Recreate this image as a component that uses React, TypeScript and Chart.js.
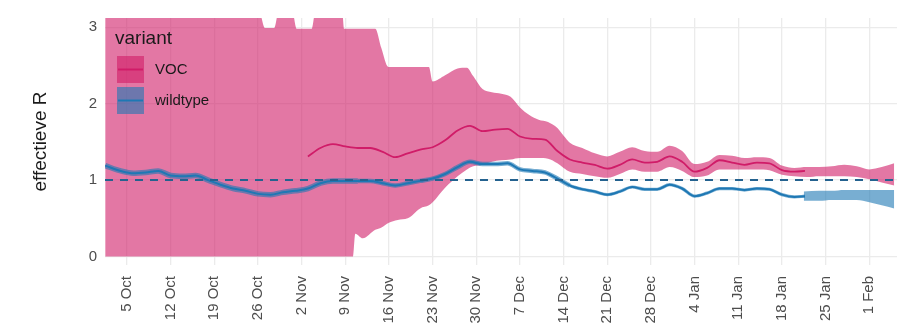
import React, { useEffect, useRef } from 'react';
import { Chart, registerables } from 'chart.js';

Chart.register(...registerables);

const FONT = "'Liberation Sans', Arial, Helvetica, sans-serif";

// x values are days since 1 Oct
const tickDays = [4, 11, 18, 25, 32, 39, 46, 53, 60, 67, 74, 81, 88, 95, 102, 109, 116, 123];
const tickLabels = ['5 Oct', '12 Oct', '19 Oct', '26 Oct', '2 Nov', '9 Nov', '16 Nov', '23 Nov', '30 Nov', '7 Dec', '14 Dec', '21 Dec', '28 Dec', '4 Jan', '11 Jan', '18 Jan', '25 Jan', '1 Feb'];
const yTicks = [0, 1, 2, 3];

const seriesNames = ['VOC', 'wildtype'];
const legendTitle = 'variant';
const yTitle = 'effectieve R';

// wildtype R
const wildDays = [0.5, 3, 5, 7, 9, 11, 13, 15, 17, 19, 21, 23, 25, 27, 29, 31, 33, 35, 37, 39, 41, 43, 45, 47, 49, 51, 53, 55, 57, 59, 61, 63, 65, 67, 69, 71, 73, 75, 77, 79, 81, 83, 85, 87, 89, 91, 93, 95, 97, 99, 101, 103, 105, 107, 109, 111, 112.7];
const wildR = [1.19, 1.12, 1.09, 1.10, 1.12, 1.06, 1.05, 1.06, 1.00, 0.94, 0.89, 0.86, 0.82, 0.81, 0.84, 0.86, 0.89, 0.96, 0.99, 0.99, 0.99, 0.99, 0.96, 0.93, 0.96, 0.99, 1.02, 1.08, 1.17, 1.24, 1.21, 1.21, 1.22, 1.14, 1.12, 1.10, 1.02, 0.93, 0.88, 0.85, 0.81, 0.85, 0.91, 0.88, 0.88, 0.94, 0.89, 0.79, 0.83, 0.89, 0.89, 0.87, 0.89, 0.88, 0.81, 0.78, 0.79];

// wildtype projection band
const wildBandDays = [112.5, 115, 117, 119, 121, 123, 125, 127];
const wildBandLow = [0.73, 0.73, 0.74, 0.74, 0.74, 0.71, 0.67, 0.63];
const wildBandHigh = [0.85, 0.86, 0.86, 0.87, 0.87, 0.87, 0.87, 0.87];

// VOC R
const vocDays = [33, 35, 37, 39, 41, 43, 45, 47, 49, 51, 53, 55, 57, 59, 61, 63, 65, 67, 69, 71, 73, 75, 77, 79, 81, 83, 85, 87, 89, 91, 93, 95, 97, 99, 101, 103, 105, 107, 109, 111, 112.7];
const vocR = [1.31, 1.42, 1.47, 1.44, 1.42, 1.42, 1.37, 1.30, 1.35, 1.40, 1.43, 1.52, 1.65, 1.71, 1.64, 1.66, 1.67, 1.57, 1.54, 1.53, 1.38, 1.27, 1.23, 1.20, 1.15, 1.20, 1.27, 1.23, 1.24, 1.31, 1.24, 1.11, 1.16, 1.26, 1.23, 1.20, 1.23, 1.22, 1.13, 1.11, 1.12];

// VOC uncertainty band
const vocBandDays = [0.5, 25.2, 26.1, 27.6, 28.3, 30.5, 31.2, 33.6, 34.2, 38.5, 38.8, 40.2, 40.6, 41.8, 43.8, 44.8, 45.9, 47.4, 49, 51, 52.4, 53, 55, 57, 58.5, 59.5, 61, 62.5, 64, 65.5, 67, 68.5, 70, 71.5, 73, 74, 75, 77, 79, 81, 83, 85, 87, 89, 91, 93, 95, 97, 99, 101, 103, 105, 107, 109, 111, 113, 115, 117, 119, 121, 123, 125, 127];
const vocBandHigh = [3.2, 3.2, 2.99, 2.99, 3.2, 3.2, 2.98, 2.98, 3.2, 3.2, 2.98, 2.98, 2.98, 2.98, 2.98, 2.72, 2.48, 2.48, 2.48, 2.48, 2.48, 2.29, 2.37, 2.46, 2.47, 2.36, 2.19, 2.15, 2.13, 2.09, 1.95, 1.85, 1.79, 1.76, 1.68, 1.58, 1.49, 1.42, 1.35, 1.31, 1.37, 1.43, 1.38, 1.37, 1.45, 1.38, 1.21, 1.24, 1.33, 1.32, 1.29, 1.30, 1.29, 1.19, 1.16, 1.17, 1.17, 1.18, 1.20, 1.18, 1.14, 1.17, 1.22];
const vocBandLow = [0, 0, 0, 0, 0, 0, 0, 0, 0, 0, 0, 0, 0.30, 0.24, 0.35, 0.38, 0.44, 0.48, 0.50, 0.63, 0.67, 0.71, 0.90, 1.05, 1.14, 1.18, 1.20, 1.24, 1.26, 1.27, 1.29, 1.29, 1.29, 1.28, 1.22, 1.16, 1.11, 1.08, 1.05, 1.03, 1.08, 1.14, 1.11, 1.11, 1.17, 1.12, 1.04, 1.06, 1.14, 1.14, 1.14, 1.14, 1.13, 1.07, 1.05, 1.04, 1.05, 1.05, 1.05, 1.04, 1.01, 0.97, 0.93];

const refLevel = 1;
const X_MIN = 0.47;
const X_MAX = 127.45;

const VOC_COL = 'rgb(208,28,104)';
const VOC_FILL = 'rgba(208,28,104,0.6)';
const WILD_COL = 'rgb(30,120,180)';
const WILD_FILL = 'rgba(30,120,180,0.6)';

const pts = (xs: number[], ys: number[]) => xs.map((x, i) => ({ x, y: ys[i] }));

const legendPlugin = {
  id: 'ggLegend',
  afterDatasetsDraw(chart: any) {
    const { ctx, chartArea } = chart;
    const L = chartArea.left;
    const T = chartArea.top;
    ctx.save();
    ctx.fillStyle = '#1a1a1a';
    ctx.font = `19px ${FONT}`;
    ctx.textBaseline = 'alphabetic';
    ctx.textAlign = 'left';
    ctx.fillText(legendTitle, L + 10, T + 26);
    const keys = [
      { fill: VOC_FILL, line: VOC_COL, label: seriesNames[0], y: T + 38 },
      { fill: WILD_FILL, line: WILD_COL, label: seriesNames[1], y: T + 69 },
    ];
    keys.forEach((k) => {
      ctx.fillStyle = k.fill;
      ctx.fillRect(L + 12, k.y, 27, 27);
      ctx.strokeStyle = k.line;
      ctx.lineWidth = 2;
      ctx.beginPath();
      ctx.moveTo(L + 13, k.y + 13.5);
      ctx.lineTo(L + 38, k.y + 13.5);
      ctx.stroke();
      ctx.fillStyle = '#1a1a1a';
      ctx.font = `15px ${FONT}`;
      ctx.textBaseline = 'middle';
      ctx.fillText(k.label, L + 50, k.y + 14);
    });
    ctx.restore();
  },
};

export default function App() {
  const ref = useRef<HTMLCanvasElement | null>(null);
  useEffect(() => {
    if (!ref.current) return;
    const chart = new Chart(ref.current, {
      type: 'line',
      data: {
        datasets: [
          {
            label: 'ref',
            data: pts([X_MIN, X_MAX], [refLevel, refLevel]),
            borderColor: '#24628f',
            borderWidth: 2,
            borderDash: [8, 7],
            pointRadius: 0,
            fill: false,
          },
          {
            label: seriesNames[0],
            data: pts(vocDays, vocR),
            borderColor: VOC_COL,
            borderWidth: 1.8,
            pointRadius: 0,
            cubicInterpolationMode: 'monotone',
            fill: false,
          },
          {
            label: seriesNames[1],
            data: pts(wildDays, wildR),
            borderColor: WILD_COL,
            borderWidth: 2,
            pointRadius: 0,
            cubicInterpolationMode: 'monotone',
            fill: false,
          },
          {
            label: 'wild halo',
            data: pts(wildDays, wildR),
            borderColor: WILD_FILL,
            borderWidth: 4,
            pointRadius: 0,
            cubicInterpolationMode: 'monotone',
            fill: false,
            segment: {
              borderWidth: (c: any) => {
                const d = c.p0.parsed.x;
                return d < 40 ? 5.5 : d < 75 ? 4.5 : 3.2;
              },
            },
          },
          {
            label: 'wild high',
            data: pts(wildBandDays, wildBandHigh),
            borderWidth: 0,
            borderColor: 'rgba(0,0,0,0)',
            backgroundColor: WILD_FILL,
            pointRadius: 0,
            cubicInterpolationMode: 'monotone',
            fill: '+1',
          },
          {
            label: 'wild low',
            data: pts(wildBandDays, wildBandLow),
            borderWidth: 0,
            borderColor: 'rgba(0,0,0,0)',
            pointRadius: 0,
            cubicInterpolationMode: 'monotone',
            fill: false,
          },
          {
            label: 'voc high',
            data: pts(vocBandDays, vocBandHigh),
            borderWidth: 0,
            borderColor: 'rgba(0,0,0,0)',
            backgroundColor: VOC_FILL,
            pointRadius: 0,
            cubicInterpolationMode: 'monotone',
            fill: '+1',
          },
          {
            label: 'voc low',
            data: pts(vocBandDays, vocBandLow),
            borderWidth: 0,
            borderColor: 'rgba(0,0,0,0)',
            pointRadius: 0,
            cubicInterpolationMode: 'monotone',
            fill: false,
          },
        ],
      },
      options: {
        animation: false,
        responsive: false,
        devicePixelRatio: 1,
        layout: { padding: { top: 18, right: 8, left: 0, bottom: 0 } },
        plugins: {
          legend: { display: false },
          tooltip: { enabled: false },
        },
        scales: {
          x: {
            type: 'linear',
            min: X_MIN,
            max: X_MAX,
            afterBuildTicks: (s: any) => {
              s.ticks = tickDays.map((v) => ({ value: v }));
            },
            afterFit: (s: any) => {
              s.height = 71;
            },
            grid: { color: '#ebebeb', lineWidth: 1.3, drawTicks: false },
            border: { display: false },
            ticks: {
              autoSkip: false,
              minRotation: 90,
              maxRotation: 90,
              padding: 11,
              color: '#4d4d4d',
              font: { family: FONT, size: 15 },
              callback: (_v: any, i: number) => tickLabels[i],
            },
          },
          y: {
            type: 'linear',
            min: -0.11,
            max: 3.12,
            afterBuildTicks: (s: any) => {
              s.ticks = yTicks.map((v) => ({ value: v }));
            },
            afterFit: (s: any) => {
              s.width = 105;
            },
            grid: { color: '#ebebeb', lineWidth: 1.3, drawTicks: false },
            border: { display: false },
            ticks: {
              padding: 8,
              color: '#4d4d4d',
              font: { family: FONT, size: 15 },
              callback: (v: any) => String(v),
            },
            title: {
              display: true,
              text: yTitle,
              color: '#1a1a1a',
              font: { family: FONT, size: 19 },
              padding: { top: 29, bottom: 0 },
            },
          },
        },
      } as any,
      plugins: [legendPlugin],
    });
    return () => chart.destroy();
  }, []);

  return (
    <div style={{ position: 'fixed', left: 0, top: 0, width: 905, height: 336, background: '#fff' }}>
      <canvas ref={ref} width={905} height={336} style={{ display: 'block' }} />
    </div>
  );
}
